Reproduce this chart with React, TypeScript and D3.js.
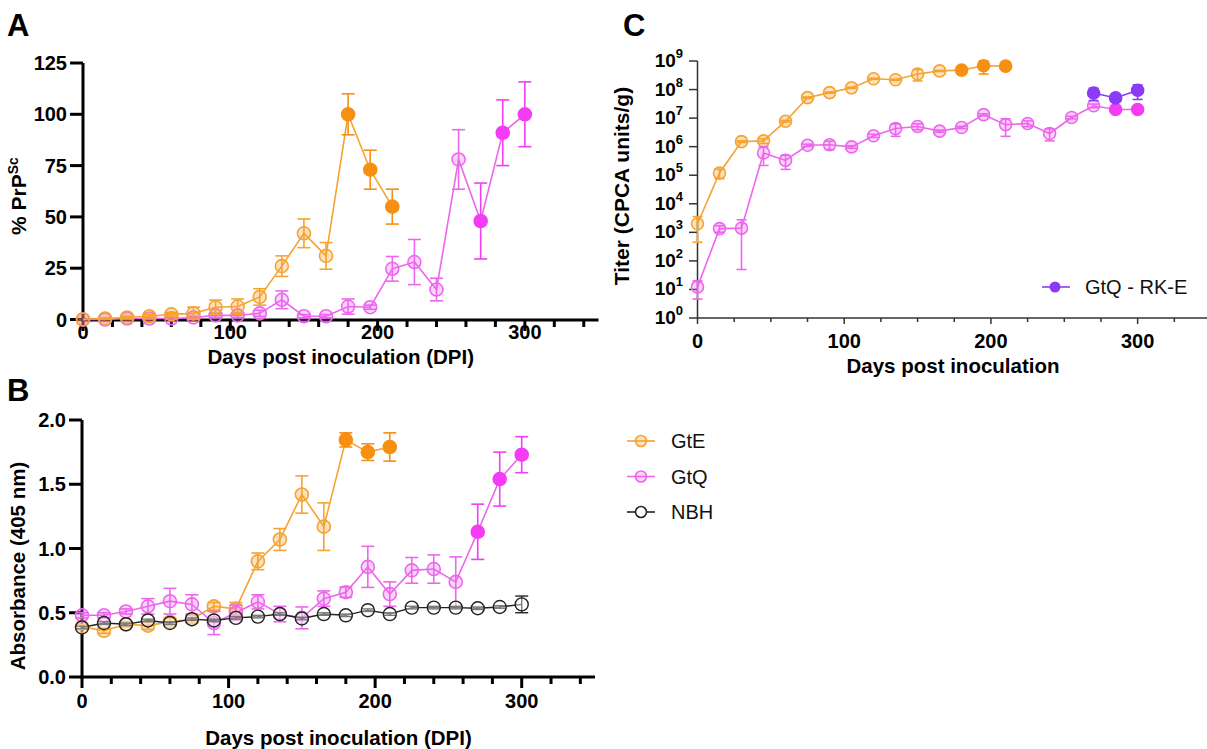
import React from "react";
import * as d3 from "d3";

// ---------- DATA ----------
const gteDays = [0, 15, 30, 45, 60, 75, 90, 105, 120, 135, 150, 165, 180, 195, 210];
const gtqDays = [0, 15, 30, 45, 60, 75, 90, 105, 120, 135, 150, 165, 180, 195, 210, 225, 240, 255, 270, 285, 300];
const nbhDays = [0, 15, 30, 45, 60, 75, 90, 105, 120, 135, 150, 165, 180, 195, 210, 225, 240, 255, 270, 285, 300];
const rkeDays = [270, 285, 300];

// Panel A: % PrPSc
const gtePrp = [0, 0.5, 1, 1.6, 2.5, 3, 6, 6.3, 11, 26, 42, 31, 100, 73, 55];
const gtePrpErr = [0, 0.3, 0.5, 0.8, 1, 3, 3.5, 3.7, 4, 5, 7, 6.5, 10, 9.5, 8.5];
const gtqPrp = [0, 0, 0.5, 0.5, 0.5, 1, 2, 2, 3, 9.6, 1.6, 1.6, 6.3, 6, 24.7, 28, 14.6, 78, 48, 91, 100];
const gtqPrpErr = [0, 0, 0.3, 0.3, 0.3, 0.5, 1, 1, 1.5, 4.3, 0.8, 0.8, 3.7, 1, 6, 11, 5.5, 14.5, 18.5, 16, 15.8];

// Panel B: Absorbance (405 nm)
const gteAbs = [0.39, 0.36, 0.41, 0.4, 0.43, 0.45, 0.55, 0.53, 0.9, 1.07, 1.42, 1.17, 1.845, 1.75, 1.79];
const gteAbsErr = [0.02, 0.02, 0.02, 0.03, 0.03, 0.03, 0.03, 0.05, 0.065, 0.085, 0.145, 0.185, 0.055, 0.065, 0.11];
const gtqAbs = [0.48, 0.48, 0.51, 0.55, 0.59, 0.565, 0.42, 0.5, 0.585, 0.49, 0.46, 0.61, 0.66, 0.857, 0.645, 0.83, 0.84, 0.74, 1.13, 1.54, 1.73];
const gtqAbsErr = [0.02, 0.02, 0.02, 0.06, 0.1, 0.075, 0.09, 0.06, 0.055, 0.06, 0.085, 0.06, 0.04, 0.16, 0.095, 0.1, 0.11, 0.195, 0.215, 0.21, 0.14];
const nbhAbs = [0.385, 0.42, 0.41, 0.44, 0.42, 0.45, 0.44, 0.46, 0.47, 0.49, 0.455, 0.49, 0.48, 0.52, 0.49, 0.54, 0.54, 0.54, 0.535, 0.545, 0.565];
const nbhAbsErr = [0.01, 0.01, 0.01, 0.01, 0.01, 0.01, 0.01, 0.01, 0.01, 0.01, 0.01, 0.01, 0.01, 0.01, 0.01, 0.01, 0.01, 0.01, 0.01, 0.01, 0.065];

// Panel C: Titer (CPCA units/g)
const gteTiter = [2.0e3, 1.2e5, 1.5e6, 1.6e6, 7.8e6, 5.2e7, 7.8e7, 1.15e8, 2.4e8, 2.2e8, 3.5e8, 4.5e8, 4.8e8, 6.8e8, 6.6e8];
const gteTiterErr = [1.55e3, 4.4e4, 1e5, 3e5, 5e5, 3e6, 4e6, 5e6, 1e7, 1e7, 1.5e8, 2e7, 2e7, 3.3e8, 3e7];
const gtqTiter = [12.3, 1.35e3, 1.4e3, 6.0e5, 3.3e5, 1.12e6, 1.17e6, 9.8e5, 2.4e6, 4.3e6, 5.1e6, 3.5e6, 4.7e6, 1.32e7, 5.9e6, 6.5e6, 2.9e6, 1.05e7, 2.7e7, 2.0e7, 2.0e7];
const gtqTiterErr = [7.7, 350, 1.35e3, 3.8e5, 1.7e5, 1e5, 3.8e5, 1e5, 3e5, 2e6, 1.2e6, 3e5, 4e5, 1e6, 3.6e6, 1.5e6, 1.3e6, 1e6, 4e6, 1e6, 1e6];
const rkeTiter = [7.6e7, 5.1e7, 9.5e7];
const rkeTiterErr = [3.5e7, 8e6, 5e7];

// first index drawn as a filled (solid) marker
const gteFilledFromA = 12;
const gtqFilledFromA = 18;
const gteFilledFromC = 12;
const gtqFilledFromC = 19;

const xTicksMajor = [0, 100, 200, 300];
const pctTicks = [0, 25, 50, 75, 100, 125];
const absTicks = [0, 0.5, 1.0, 1.5, 2.0];
const titerTicks = [1, 10, 1e2, 1e3, 1e4, 1e5, 1e6, 1e7, 1e8, 1e9];

const legendB = ["GtE", "GtQ", "NBH"];
const legendC = "GtQ - RK-E";

// ---------- STYLE ----------
const FONT = "'Liberation Sans', Arial, Helvetica, sans-serif";
const ORANGE = "#F5A331";
const ORANGE_SOLID = "#F78F12";
const ORANGE_OPEN = "rgba(245,163,49,0.32)";
const MAGENTA = "#EE66EE";
const MAGENTA_SOLID = "#F53CF5";
const MAGENTA_OPEN = "rgba(238,102,238,0.28)";
const PURPLE = "#8B3BF6";
const BLACK = "#222";
const TITLE_FS = 20.5;

type SeriesProps = {
  days: number[];
  vals: number[];
  errs: number[];
  x: (v: number) => number;
  y: (v: number) => number;
  color: string;
  solid: string;
  open: string;
  filledFrom: number;
  r: number;
  cap: number;
  log?: boolean;
  sw?: number;
};

function Series({ days, vals, errs, x, y, color, solid, open, filledFrom, r, cap, log, sw = 1.6 }: SeriesProps) {
  const line = d3
    .line<number>()
    .x((_, i) => x(days[i]))
    .y((v) => y(v));
  return (
    <g>
      <path d={line(vals) || ""} fill="none" stroke={color} strokeWidth={sw} />
      {vals.map((v, i) => {
        const e = errs[i];
        if (!e) return null;
        const lo = log ? Math.max(v - e, 1.5) : v - e;
        const hi = v + e;
        const cx = x(days[i]);
        const ec = i >= filledFrom ? solid : color;
        return (
          <g key={"e" + i} stroke={ec} strokeWidth={sw}>
            <line x1={cx} x2={cx} y1={y(lo)} y2={y(hi)} />
            <line x1={cx - cap} x2={cx + cap} y1={y(hi)} y2={y(hi)} />
            <line x1={cx - cap} x2={cx + cap} y1={y(lo)} y2={y(lo)} />
          </g>
        );
      })}
      {vals.map((v, i) => {
        const filled = i >= filledFrom;
        return (
          <circle
            key={"m" + i}
            cx={x(days[i])}
            cy={y(v)}
            r={r}
            fill={filled ? solid : open}
            stroke={filled ? solid : color}
            strokeWidth={sw}
          />
        );
      })}
    </g>
  );
}

function XAxisThick({
  x,
  y0,
  label,
  labelY,
  titleY,
}: {
  x: d3.ScaleLinear<number, number>;
  y0: number;
  label: string;
  labelY: number;
  titleY: number;
}) {
  const ticks = d3.range(0, 341, 20);
  const [r0, r1] = x.range();
  return (
    <g>
      <line x1={r0 - 1.5} x2={r1} y1={y0} y2={y0} stroke="#000" strokeWidth={3} />
      {ticks.map((t) => (
        <line key={t} x1={x(t)} x2={x(t)} y1={y0} y2={y0 + (t % 100 === 0 ? 11 : 7)} stroke="#000" strokeWidth={3} />
      ))}
      {xTicksMajor.map((t) => (
        <text key={"l" + t} x={x(t)} y={labelY} textAnchor="middle" fontSize={20} fontWeight="bold">
          {t}
        </text>
      ))}
      <text x={(r0 + r1) / 2} y={titleY} textAnchor="middle" fontSize={TITLE_FS} fontWeight="bold">
        {label}
      </text>
    </g>
  );
}

export default function App() {
  // Panel A
  const xA = d3.scaleLinear().domain([0, 350]).range([83, 598.5]);
  const yA = d3.scaleLinear().domain([0, 125]).range([319.5, 63]);
  // Panel B
  const xB = d3.scaleLinear().domain([0, 350]).range([82, 595]);
  const yB = d3.scaleLinear().domain([0, 2]).range([677, 420]);
  // Panel C
  const xC = d3.scaleLinear().domain([0, 350]).range([697.5, 1211]);
  const yC = d3.scaleLog().domain([1, 1e9]).range([318, 61]);

  const cTicksX = d3.range(0, 351, 25);

  return (
    <svg
      width={1207}
      height={749}
      style={{ position: "absolute", left: 0, top: 0, background: "#fff" }}
      fontFamily={FONT}
    >
      <rect width={1207} height={749} fill="#fff" />

      {/* Panel letters */}
      <text x={7} y={36} fontSize={31} fontWeight="bold">A</text>
      <text x={7} y={401} fontSize={31} fontWeight="bold">B</text>
      <text x={623} y={36} fontSize={31} fontWeight="bold">C</text>

      {/* ---------- Panel A ---------- */}
      <g>
        <line x1={83} x2={83} y1={yA(125)} y2={321.5} stroke="#000" strokeWidth={3} />
        {pctTicks.map((t) => (
          <g key={t}>
            <line x1={70} x2={83} y1={yA(t)} y2={yA(t)} stroke="#000" strokeWidth={3} />
            <text x={67} y={yA(t) + 7} textAnchor="end" fontSize={20} fontWeight="bold">
              {t}
            </text>
          </g>
        ))}
        <text transform={`translate(26,196) rotate(-90)`} textAnchor="middle" fontSize={21} fontWeight="bold">
          % PrP<tspan dy={-8} fontSize={14}>Sc</tspan>
        </text>
        <XAxisThick x={xA} y0={320} label="Days post inoculation (DPI)" labelY={339} titleY={364} />
        <Series days={gtqDays} vals={gtqPrp} errs={gtqPrpErr} x={xA} y={yA} color={MAGENTA} solid={MAGENTA_SOLID} open={MAGENTA_OPEN} filledFrom={gtqFilledFromA} r={6.5} cap={6.5} />
        <Series days={gteDays} vals={gtePrp} errs={gtePrpErr} x={xA} y={yA} color={ORANGE} solid={ORANGE_SOLID} open={ORANGE_OPEN} filledFrom={gteFilledFromA} r={6.5} cap={6.5} />
      </g>

      {/* ---------- Panel B ---------- */}
      <g>
        <line x1={82} x2={82} y1={yB(2)} y2={678.5} stroke="#000" strokeWidth={3} />
        {absTicks.map((t) => (
          <g key={t}>
            <line x1={69} x2={82} y1={yB(t)} y2={yB(t)} stroke="#000" strokeWidth={3} />
            <text x={66} y={yB(t) + 7} textAnchor="end" fontSize={20} fontWeight="bold">
              {t.toFixed(1)}
            </text>
          </g>
        ))}
        <text transform={`translate(25,566) rotate(-90)`} textAnchor="middle" fontSize={20.5} fontWeight="bold">
          Absorbance (405 nm)
        </text>
        <XAxisThick x={xB} y0={677} label="Days post inoculation (DPI)" labelY={708} titleY={745} />
        <Series days={gteDays} vals={gteAbs} errs={gteAbsErr} x={xB} y={yB} color={ORANGE} solid={ORANGE_SOLID} open={ORANGE_OPEN} filledFrom={gteFilledFromA} r={6.5} cap={6.5} />
        <Series days={gtqDays} vals={gtqAbs} errs={gtqAbsErr} x={xB} y={yB} color={MAGENTA} solid={MAGENTA_SOLID} open={MAGENTA_OPEN} filledFrom={gtqFilledFromA} r={6.5} cap={6.5} />
        <Series days={nbhDays} vals={nbhAbs} errs={nbhAbsErr} x={xB} y={yB} color={BLACK} solid={BLACK} open="rgba(255,255,255,0.4)" filledFrom={999} r={6.5} cap={6.5} sw={1.4} />
      </g>

      {/* Legend B */}
      {legendB.map((name, i) => {
        const ly = 441 + i * 35.5;
        const col = [ORANGE, MAGENTA, BLACK][i];
        const fill = [ORANGE_OPEN, MAGENTA_OPEN, "#fff"][i];
        return (
          <g key={name}>
            <line x1={627} x2={655} y1={ly} y2={ly} stroke={col} strokeWidth={1.6} />
            <circle cx={641} cy={ly} r={5.5} fill={fill} stroke={col} strokeWidth={1.6} />
            <text x={671} y={ly + 7} fontSize={20} fill="#111">
              {name}
            </text>
          </g>
        );
      })}

      {/* ---------- Panel C ---------- */}
      <g>
        <line x1={697.5} x2={697.5} y1={yC(1e9)} y2={yC(1)} stroke="#333" strokeWidth={1.5} />
        {titerTicks.map((t, i) => (
          <g key={t}>
            <line x1={689} x2={697.5} y1={yC(t)} y2={yC(t)} stroke="#333" strokeWidth={1.5} />
            <text x={683} y={yC(t) + 6} textAnchor="end" fontSize={19} fontWeight="bold">
              10<tspan dy={-9} fontSize={13}>{i}</tspan>
            </text>
          </g>
        ))}
        <line x1={697} x2={1211} y1={yC(1)} y2={yC(1)} stroke="#333" strokeWidth={1.5} />
        {cTicksX.map((t) => (
          <line key={t} x1={xC(t)} x2={xC(t)} y1={yC(1)} y2={yC(1) + (t % 100 === 0 ? 6 : 4)} stroke="#333" strokeWidth={1.5} />
        ))}
        {xTicksMajor.map((t) => (
          <text key={"l" + t} x={xC(t)} y={348} textAnchor="middle" fontSize={20} fontWeight="bold">
            {t}
          </text>
        ))}
        <text x={953} y={373} textAnchor="middle" fontSize={TITLE_FS} fontWeight="bold">
          Days post inoculation
        </text>
        <text transform={`translate(629,186) rotate(-90)`} textAnchor="middle" fontSize={21} fontWeight="bold">
          Titer (CPCA units/g)
        </text>
        <Series days={gteDays} vals={gteTiter} errs={gteTiterErr} x={xC} y={yC} color={ORANGE} solid={ORANGE_SOLID} open={ORANGE_OPEN} filledFrom={gteFilledFromC} r={6} cap={5} log />
        <Series days={gtqDays} vals={gtqTiter} errs={gtqTiterErr} x={xC} y={yC} color={MAGENTA} solid={MAGENTA_SOLID} open={MAGENTA_OPEN} filledFrom={gtqFilledFromC} r={6} cap={5} log />
        <Series days={rkeDays} vals={rkeTiter} errs={rkeTiterErr} x={xC} y={yC} color={PURPLE} solid={PURPLE} open={PURPLE} filledFrom={0} r={6} cap={5} log />
        {/* Legend C */}
        <line x1={1042} x2={1070} y1={287} y2={287} stroke={PURPLE} strokeWidth={1.6} />
        <circle cx={1055} cy={287} r={5.5} fill={PURPLE} />
        <text x={1085} y={294} fontSize={20} fill="#111">
          {legendC}
        </text>
      </g>
    </svg>
  );
}
